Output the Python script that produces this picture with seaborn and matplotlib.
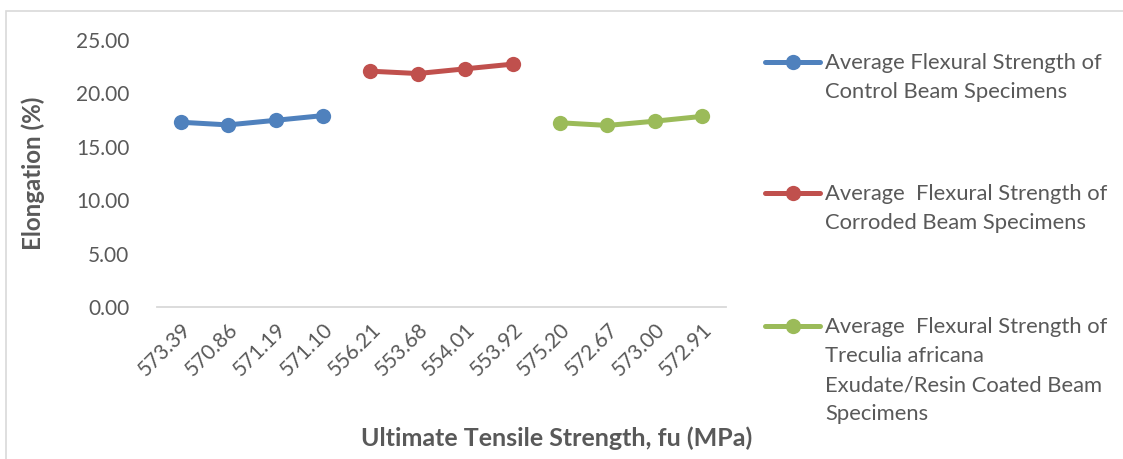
import matplotlib
matplotlib.use("Agg")
import matplotlib.pyplot as plt
from matplotlib.lines import Line2D
from matplotlib.patches import Rectangle
import numpy as np
import pandas as pd
import seaborn as sns

# Tick labels along the category axis (ultimate tensile strength, MPa)
tensile_labels = ["573.39", "570.86", "571.19", "571.10",
                  "556.21", "553.68", "554.01", "553.92",
                  "575.20", "572.67", "573.00", "572.91"]

# Elongation (%) for each beam group
control_elong = [17.30, 17.05, 17.48, 17.92]
corroded_elong = [22.08, 21.86, 22.30, 22.74]
coated_elong = [17.25, 17.00, 17.40, 17.85]

series_names = [
    "Average Flexural Strength of\nControl Beam Specimens",
    "Average  Flexural Strength of\nCorroded Beam Specimens",
    "Average  Flexural Strength of\nTreculia africana\nExudate/Resin Coated Beam\nSpecimens",
]
colors = ["#4f81bd", "#c0504d", "#9bbb59"]

groups = [control_elong, corroded_elong, coated_elong]
rows = []
pos = 0
for name, vals in zip(series_names, groups):
    for v in vals:
        rows.append({"pos": pos, "elong": v, "series": name})
        pos += 1
df = pd.DataFrame(rows)

sns.set_theme(style="white")
plt.rcParams["font.family"] = ["Lato", "DejaVu Sans"]

W, H = 1123, 459
fig = plt.figure(figsize=(W / 100, H / 100), dpi=100)
ax = fig.add_axes([157 / W, 1 - 307 / H, (726 - 157) / W, (307 - 40) / H])

sns.lineplot(data=df, x="pos", y="elong", hue="series", palette=colors,
             marker="o", markersize=11, linewidth=3.6, markeredgewidth=0,
             legend=False, ax=ax)

text_col = "#595959"
ax.set_xlim(-0.5, len(tensile_labels) - 0.5)
ax.set_ylim(0, 25)
ax.set_yticks(np.arange(0, 25.01, 5))
ax.set_yticklabels([f"{t:.2f}" for t in np.arange(0, 25.01, 5)])
ax.set_xticks(range(len(tensile_labels)))
ax.set_xticklabels(tensile_labels, rotation=45, ha="right", rotation_mode="anchor")
ax.tick_params(axis="y", length=0, pad=20, labelsize=15, labelcolor=text_col)
ax.tick_params(axis="x", length=0, pad=9, labelsize=15, labelcolor=text_col)
for s in ["top", "right", "left"]:
    ax.spines[s].set_visible(False)
ax.spines["bottom"].set_color("#d9d9d9")
ax.spines["bottom"].set_linewidth(1.3)
ax.set_xlabel("")
ax.set_ylabel("Elongation (%)", fontsize=17.4, fontweight="bold", color=text_col)
ax.yaxis.set_label_coords(-(157 - 45) / (726 - 157), 0.5)

fig.text(557 / W, 1 - 438 / H, "Ultimate Tensile Strength, fu (MPa)",
         ha="center", va="center", fontsize=18, fontweight="bold", color=text_col)

# Chart frame
fig.add_artist(Rectangle((6 / W, -0.05), 1.2, 1 - 11 / H + 0.05, transform=fig.transFigure,
                         fill=False, edgecolor="#d9d9d9", linewidth=1.2))

# Legend drawn at the right of the plot
first_line_y = [62, 193, 326]
for name, c, y in zip(series_names, colors, first_line_y):
    yf = 1 - y / H
    fig.add_artist(Line2D([765 / W, 820 / W], [yf, yf], transform=fig.transFigure,
                          color=c, linewidth=3.6))
    fig.add_artist(Line2D([792.5 / W], [yf], transform=fig.transFigure, color=c,
                          marker="o", markersize=11, markeredgewidth=0))
    fig.text(825 / W, 1 - (y - 9) / H, name, ha="left", va="top", fontsize=15.8,
             color=text_col, linespacing=1.57)

fig.savefig("out.png", dpi=100)
